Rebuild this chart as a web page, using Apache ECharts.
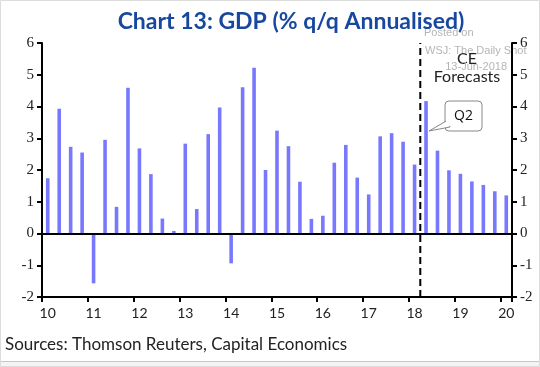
<!DOCTYPE html>
<html>
<head>
<meta charset="utf-8">
<style>
html,body{margin:0;padding:0;background:#fff;}
#chart{width:540px;height:367px;}
</style>
<script src="https://cdn.jsdelivr.net/npm/echarts@6/dist/echarts.min.js"></script>
</head>
<body>
<div id="chart"></div>
<script>
// Quarters 2010Q1 .. 2020Q1
const quarters = [];
for (let y = 2010; y <= 2020; y++) { for (let q = 1; q <= 4; q++) { if (y === 2020 && q > 1) break; quarters.push(y + 'Q' + q); } }
const yearLabels = ['10','11','12','13','14','15','16','17','18','19','20'];
const gdpGrowth = [
  1.74, 3.93, 2.73, 2.55,
  -1.57, 2.95, 0.84, 4.59,
  2.68, 1.87, 0.47, 0.08,
  2.83, 0.77, 3.13, 3.97,
  -0.94, 4.61, 5.22, 2.00,
  3.24, 2.75, 1.63, 0.46,
  0.56, 2.23, 2.79, 1.76,
  1.23, 3.06, 3.16, 2.89,
  2.17, 4.17, 2.61, 1.99,
  1.88, 1.64, 1.53, 1.33,
  1.20
];
const forecastStart = 33; // boundary between 2018Q1 and 2018Q2 (band index)
const yTicks = [-2, -1, 0, 1, 2, 3, 4, 5, 6];

const chart = echarts.init(document.getElementById('chart'), null, {renderer: 'canvas'});
const serif = '"Liberation Serif", "DejaVu Serif", serif';
const sans = 'Lato, "Open Sans", sans-serif';
const yAxisCommon = {
  type: 'value', min: yTicks[0], max: yTicks[yTicks.length - 1], interval: 1,
  axisLine: {show: true, onZero: false, lineStyle: {color: '#000', width: 2}},
  axisTick: {show: true, inside: false, length: 5, lineStyle: {color: '#000', width: 2}},
  axisLabel: {color: '#222', fontFamily: serif, fontSize: 15, margin: 8},
  splitLine: {show: false}
};
chart.setOption({
  animation: false,
  backgroundColor: '#fff',
  title: {
    text: 'Chart 13: GDP (% q/q Annualised)',
    left: 286, top: 5, textAlign: 'center',
    textStyle: {color: '#17479e', fontSize: 23, fontWeight: 'bold', fontFamily: sans}
  },
  grid: {left: 42, right: 28, top: 43, bottom: 70, containLabel: false},
  xAxis: [{
    type: 'category', data: quarters, boundaryGap: true,
    axisLine: {show: true, onZero: false, lineStyle: {color: '#000', width: 2}},
    axisTick: {show: true, interval: 3, length: 5, lineStyle: {color: '#000', width: 2}},
    axisLabel: {
      interval: 3, color: '#222', fontFamily: sans, fontSize: 14, margin: 9,
      formatter: (v, i) => yearLabels[Math.floor(i / 4)]
    },
    splitLine: {show: false}
  }, {
    type: 'value', min: 0, max: quarters.length, show: false
  }],
  yAxis: [
    Object.assign({position: 'left'}, yAxisCommon),
    Object.assign({position: 'right'}, yAxisCommon)
  ],
  series: [{
    type: 'bar', data: gdpGrowth, barWidth: 3.6,
    itemStyle: {color: '#7878ff'},
    markLine: {
      silent: true, symbol: ['none', 'none'], label: {show: false},
      lineStyle: {color: '#000', width: 2, type: 'solid'},
      data: [{yAxis: 0}]
    }
  }, {
    type: 'line', xAxisIndex: 1, yAxisIndex: 0, symbol: 'none', silent: true,
    lineStyle: {color: '#000', width: 2, type: [7, 4]},
    data: [[forecastStart, yTicks[0]], [forecastStart, yTicks[yTicks.length - 1]]]
  }],
  graphic: [
    {type: 'text', left: 424, top: 27, style: {text: 'Posted on', fill: '#b5b5b5', font: '11px "Liberation Sans", Arial, sans-serif'}},
    {type: 'text', left: 425, top: 45, style: {text: 'WSJ: The Daily Shot', fill: '#b5b5b5', font: '11px "Liberation Sans", Arial, sans-serif'}},
    {type: 'text', x: 467, y: 59, style: {text: 'CE', fill: '#222', font: '16px Lato, sans-serif', align: 'center', verticalAlign: 'middle'}},
    {type: 'text', right: 33, top: 61, style: {text: '13-Jun-2018', fill: '#b5b5b5', font: '11px "Liberation Sans", Arial, sans-serif'}},
    {type: 'text', x: 467, y: 77, style: {text: 'Forecasts', fill: '#222', font: '16px Lato, sans-serif', align: 'center', verticalAlign: 'middle'}},
    {type: 'polygon', shape: {points: [[448, 120], [429, 131], [450, 127]]}, style: {fill: '#fff', stroke: '#888', lineWidth: 1}, z: 10},
    {type: 'rect', shape: {x: 445, y: 101, width: 37, height: 30, r: 4}, style: {fill: '#fff', stroke: '#888', lineWidth: 1}, z: 9},
    {type: 'rect', shape: {x: 446, y: 118, width: 4, height: 8}, style: {fill: '#fff'}, z: 11},
    {type: 'text', x: 463.5, y: 116.5, z: 12, style: {text: 'Q2', fill: '#111', font: '14px "Open Sans", sans-serif', align: 'center', verticalAlign: 'middle'}},
    {type: 'text', left: 5, top: 336, style: {text: 'Sources: Thomson Reuters, Capital Economics', fill: '#222', font: '17px Lato, sans-serif'}},
    {type: 'line', shape: {x1: 0, y1: 361.5, x2: 540, y2: 361.5}, style: {stroke: '#c8c8c8', lineWidth: 1}},
    {type: 'rect', shape: {x: 0, y: 362, width: 540, height: 5}, style: {fill: '#f4f4f4'}},
    {type: 'rect', shape: {x: 0.5, y: 0.5, width: 539, height: 366}, style: {fill: 'none', stroke: '#dcdcdc', lineWidth: 1}}
  ]
});
</script>
</body>
</html>
